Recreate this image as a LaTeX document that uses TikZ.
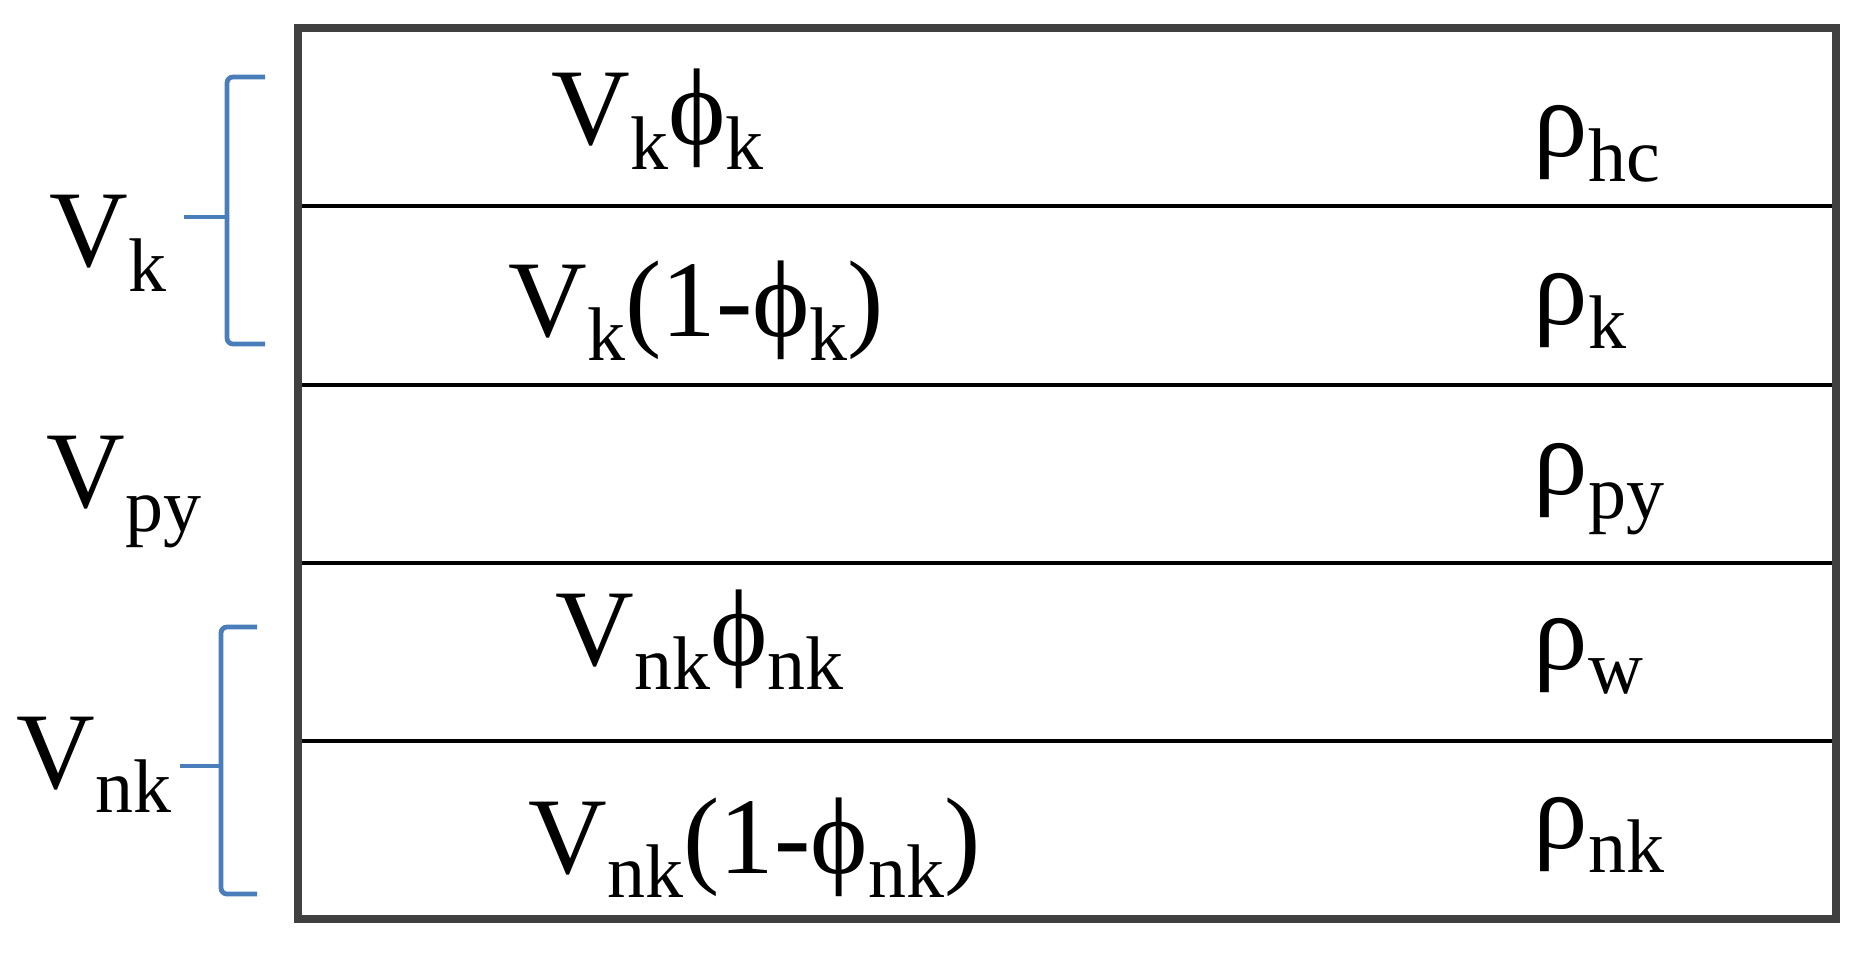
\documentclass[tikz,border=0pt]{standalone}
\usepackage{fontspec}
\setmainfont{Liberation Serif}
\definecolor{braceblue}{RGB}{74,126,187}
\definecolor{framegray}{RGB}{64,64,64}
\newcommand{\lsub}[1]{\raisebox{-6pt}{\fontsize{19}{19}\selectfont #1}}
\tikzset{
  lbl/.style={anchor=base west, inner sep=0pt, font=\fontsize{27.25}{30}\selectfont},
  rowline/.style={line width=1pt, draw=black},
  frame/.style={line width=2pt, draw=framegray},
  bracepath/.style={line width=1.2pt, draw=braceblue, rounded corners=1.5pt}
}
\begin{document}
\begin{tikzpicture}[x=0.25pt,y=-0.25pt]
\useasboundingbox (0,0) rectangle (1860,952);
% row separators
\draw[rowline] (298,206) -- (1836,206);
\draw[rowline] (298,385) -- (1836,385);
\draw[rowline] (298,563) -- (1836,563);
\draw[rowline] (298,741) -- (1836,741);
% outer frame
\draw[frame] (298,28) rectangle (1836,919);
% braces
\draw[bracepath] (265,77) -- (227,77) -- (227,344) -- (265,344);
\draw[bracepath] (227,217) -- (184,217);
\draw[bracepath] (257,627) -- (221,627) -- (221,894) -- (257,894);
\draw[bracepath] (221,766) -- (180,766);
% left labels
\node[lbl] (vk) at (49,267) {V\lsub{k}};
\node[lbl] (vpy) at (46,507) {V\lsub{py}};
\node[lbl] (vnk) at (16,788) {V\lsub{nk}};
% row contents
\node[lbl] (r1) at (551,145) {V\lsub{k}ϕ\lsub{k}};
\node[lbl] (r2) at (508,336) {V\lsub{k}(1-ϕ\lsub{k})};
\node[lbl] (r4) at (555,665) {V\lsub{nk}ϕ\lsub{nk}};
\node[lbl] (r5) at (528,873) {V\lsub{nk}(1-ϕ\lsub{nk})};
% densities
\node[lbl] (p1) at (1533,157) {ρ\lsub{hc}};
\node[lbl] (p2) at (1533,324) {ρ\lsub{k}};
\node[lbl] (p3) at (1533,494) {ρ\lsub{py}};
\node[lbl] (p4) at (1533,669) {ρ\lsub{w}};
\node[lbl] (p5) at (1533,848) {ρ\lsub{nk}};
\end{tikzpicture}
\end{document}
